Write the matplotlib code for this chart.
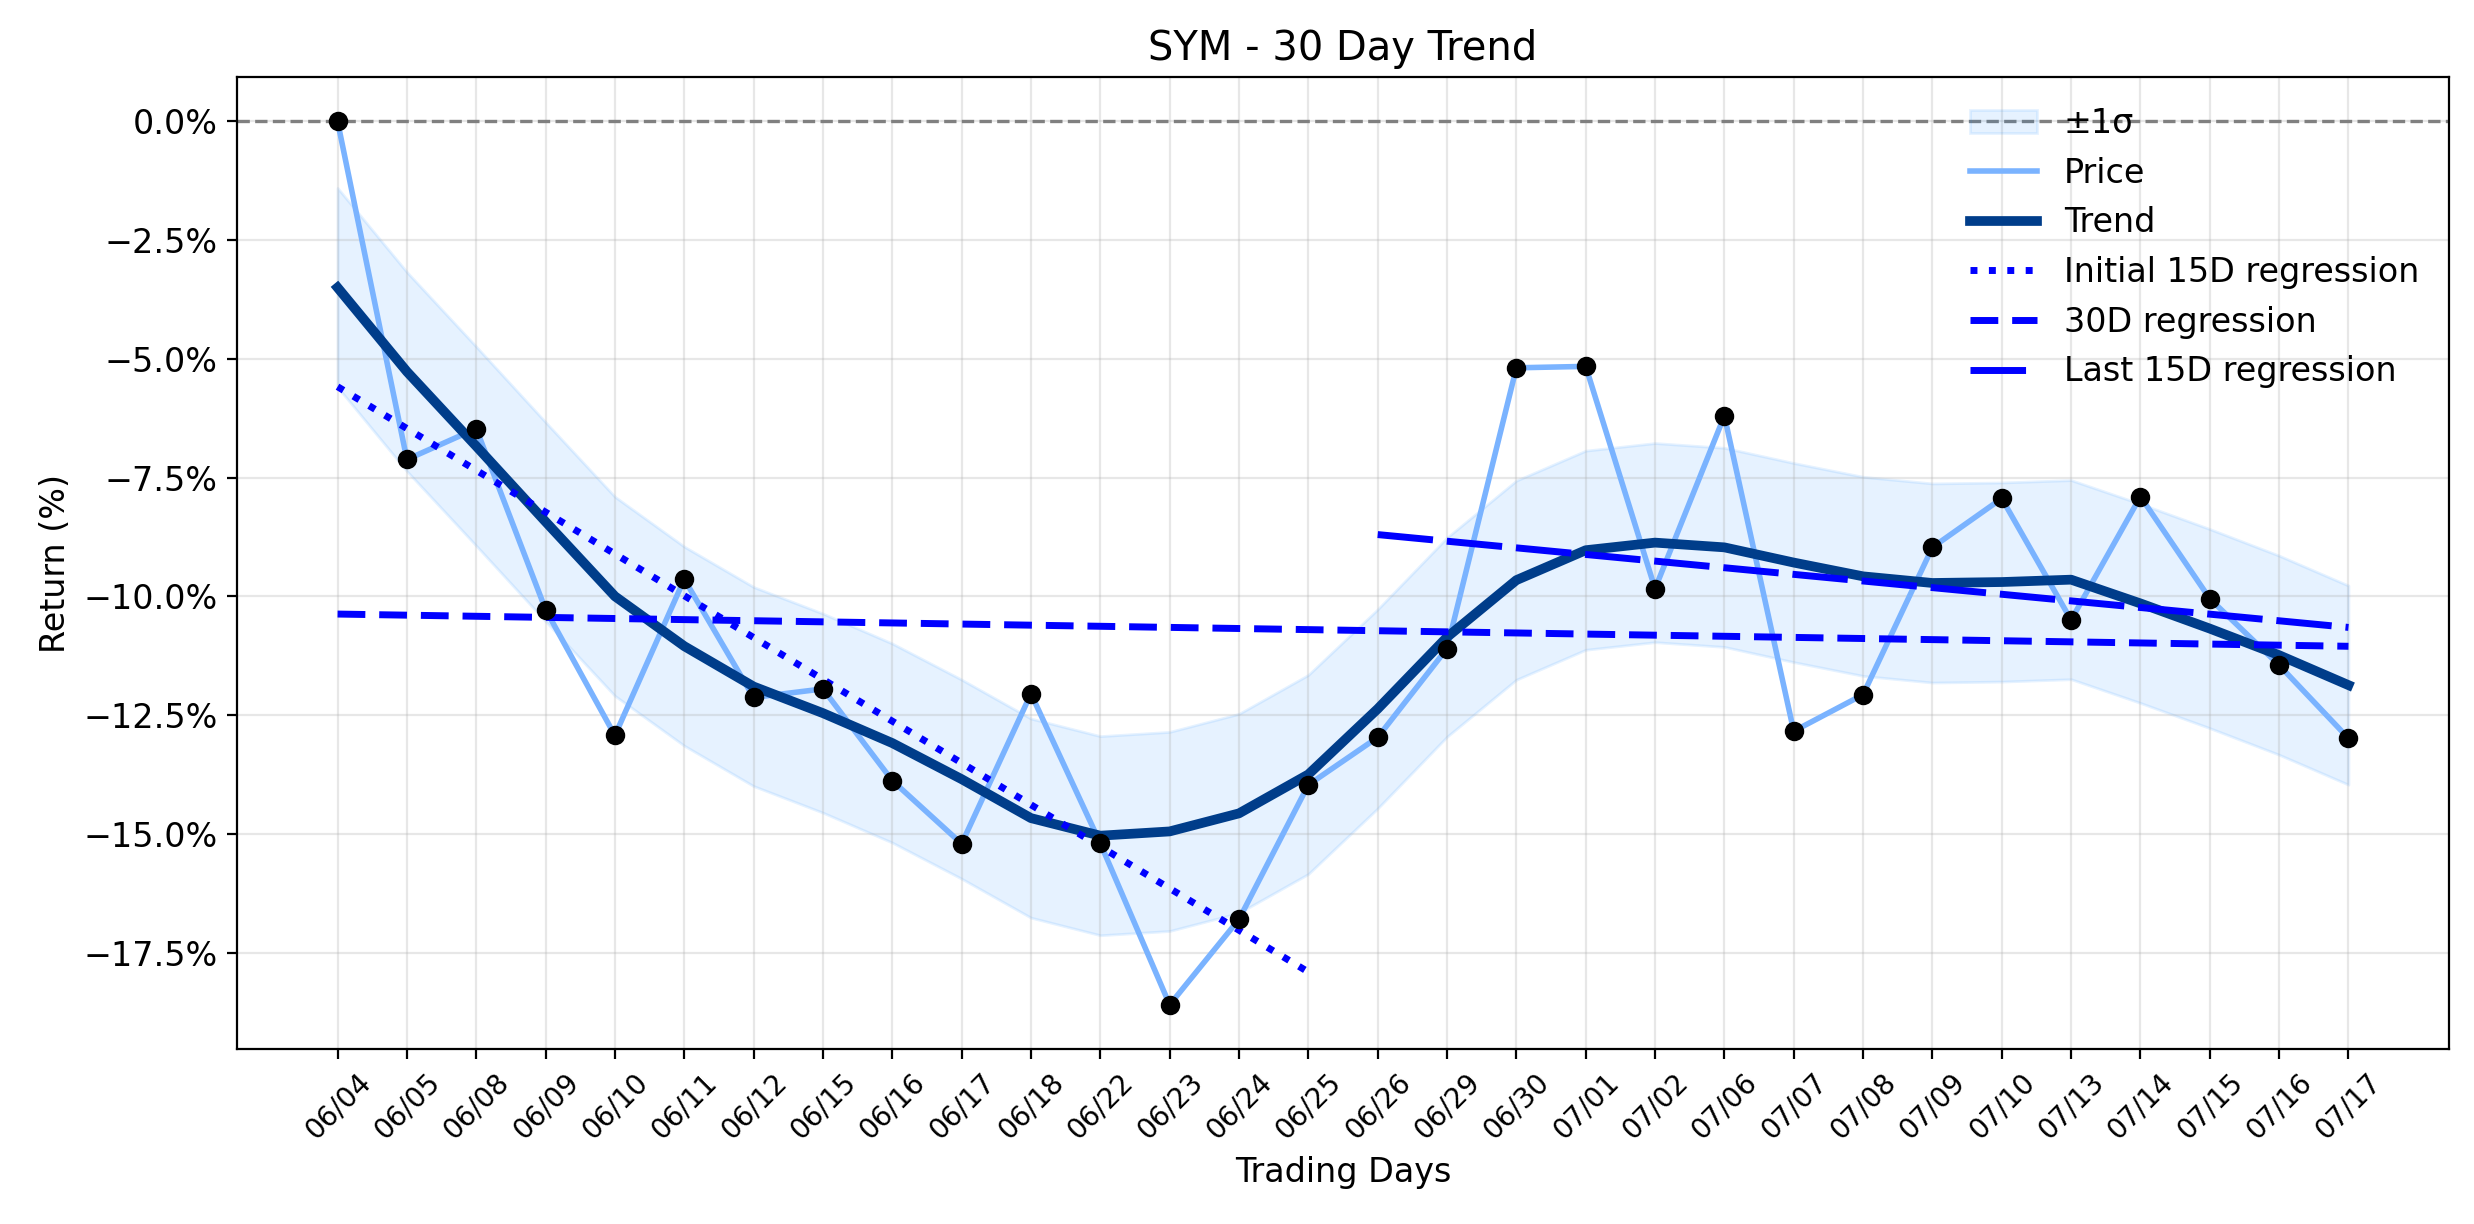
import numpy as np
import matplotlib
matplotlib.use("Agg")
from matplotlib import pyplot as plt
from matplotlib.ticker import FuncFormatter

# trading days and returns (%)
dates = ["06/04", "06/05", "06/08", "06/09", "06/10", "06/11", "06/12", "06/15",
         "06/16", "06/17", "06/18", "06/22", "06/23", "06/24", "06/25", "06/26",
         "06/29", "06/30", "07/01", "07/02", "07/06", "07/07", "07/08", "07/09",
         "07/10", "07/13", "07/14", "07/15", "07/16", "07/17"]

price = [0.0, -7.12, -6.47, -10.28, -12.93, -9.64, -12.13, -11.95,
         -13.88, -15.21, -12.05, -15.20, -18.60, -16.80, -13.97, -12.97,
         -11.10, -5.19, -5.16, -9.84, -6.20, -12.84, -12.07, -8.97,
         -7.94, -10.50, -7.90, -10.05, -11.45, -12.99]

trend = [-3.50, -5.27, -6.84, -8.43, -10.00, -11.05, -11.90, -12.46,
         -13.09, -13.85, -14.67, -15.04, -14.95, -14.57, -13.75, -12.37,
         -10.86, -9.66, -9.03, -8.87, -8.97, -9.29, -9.58, -9.72,
         -9.70, -9.65, -10.15, -10.68, -11.24, -11.87]

plt.rcParams["font.size"] = 12

x = np.arange(len(dates))
price = np.array(price)
trend = np.array(trend)
sigma = np.std(price - trend)

plt.figure(figsize=(12.37, 6.12), dpi=200)
ax = plt.gca()

ax.fill_between(x, trend - sigma, trend + sigma, color="#0a84ff", alpha=0.1, label="±1σ")
ax.plot(x, price, color="#7ab3ff", linewidth=2, label="Price")
ax.plot(x, trend, color="#003d8a", linewidth=3.5, label="Trend")

# regressions on the price series
p1 = np.polyfit(x[:15], price[:15], 1)
ax.plot(x[:15], np.polyval(p1, x[:15]), color="blue", linestyle=":", linewidth=2.5,
        label="Initial 15D regression")
p30 = np.polyfit(x, price, 1)
ax.plot(x, np.polyval(p30, x), color="blue", linestyle=(0, (4, 2)), linewidth=2.5,
        label="30D regression")
p2 = np.polyfit(x[15:], price[15:], 1)
ax.plot(x[15:], np.polyval(p2, x[15:]), color="blue", linestyle=(0, (8, 2)), linewidth=2.5,
        label="Last 15D regression")

ax.scatter(x, price, color="black", s=36, zorder=5)
ax.axhline(0, color="gray", linestyle="--", linewidth=1.2)

ax.yaxis.set_major_formatter(FuncFormatter(lambda v, p: f"{v:.1f}%".replace("-", "\u2212")))
ax.set_xticks(x)
ax.set_xticklabels(dates, rotation=45, fontsize=10)
ax.set_xlabel("Trading Days")
ax.set_ylabel("Return (%)")
ax.set_title("SYM - 30 Day Trend")
ax.grid(True, alpha=0.3)
ax.legend(loc="upper right", frameon=False)

plt.subplots_adjust(left=0.0958, right=0.9899, top=0.937, bottom=0.143)
plt.savefig("out.png", dpi=200)
